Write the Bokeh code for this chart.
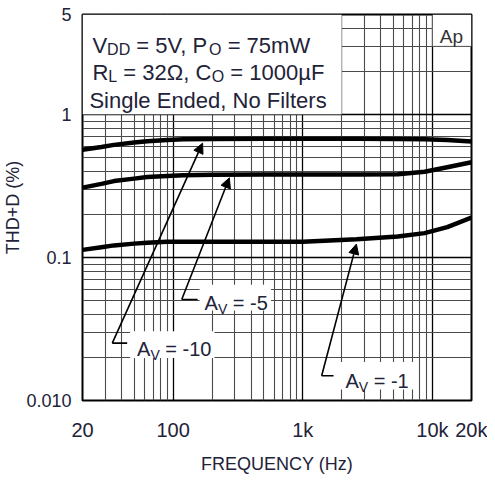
import math
from bokeh.plotting import figure
from bokeh.models import (FixedTicker, CustomJSTickFormatter, Label, BoxAnnotation,
                          Arrow, NormalHead, Range1d)
from bokeh.embed import file_html
from bokeh.resources import INLINE

# ---------------- data ----------------
freq = [20, 28, 35, 50, 63, 90, 120, 200, 500, 1000, 2600, 5400, 8700, 13000, 20000]
thd_av10 = [0.566, 0.592, 0.613, 0.637, 0.650, 0.664, 0.670, 0.675, 0.676, 0.676, 0.676, 0.675, 0.672, 0.662, 0.648]
thd_av5 = [0.308, 0.327, 0.342, 0.356, 0.365, 0.372, 0.376, 0.379, 0.380, 0.380, 0.380, 0.382, 0.398, 0.428, 0.463]
thd_av1 = [0.113, 0.118, 0.1215, 0.125, 0.127, 0.129, 0.129, 0.129, 0.129, 0.129, 0.134, 0.140, 0.148, 0.163, 0.190]

x_ticks = [20, 100, 1000, 10000, 20000]
x_tick_labels = ["20", "100", "1k", "10k", "20k"]
x_minor = [30, 40, 50, 60, 70, 80, 90, 200, 300, 400, 500, 600, 700, 800, 900,
           2000, 3000, 4000, 5000, 6000, 7000, 8000, 9000]
y_ticks = [0.01, 0.1, 1, 5]
y_tick_labels = ["0.010", "0.1", "1", "5"]
y_minor = [0.02, 0.03, 0.04, 0.05, 0.06, 0.07, 0.08, 0.09,
           0.2, 0.3, 0.4, 0.5, 0.6, 0.7, 0.8, 0.9, 2, 3, 4]

FONT = "Liberation Sans"
TXT = "#222238"
INK = "#000000"

XMIN, XMAX, YMIN, YMAX = 20, 20000, 0.01, 5
# reference frame geometry (px) used to read annotation positions
RL, RT, RW, RH = 82, 15, 392, 390
# this figure's frame geometry
FL, FT, FW, FH = 82, 14, 389, 386

p = figure(x_axis_type="log", y_axis_type="log",
           x_range=Range1d(XMIN, XMAX), y_range=Range1d(YMIN, YMAX),
           frame_width=FW, frame_height=FH,
           min_border_left=FL, min_border_right=16, min_border_top=FT, min_border_bottom=50,
           output_backend="svg", toolbar_location=None)
p.background_fill_color = "white"
p.border_fill_color = "white"
p.outline_line_color = "black"
p.outline_line_width = 2

xt = FixedTicker(ticks=x_ticks, minor_ticks=x_minor)
yt = FixedTicker(ticks=y_ticks, minor_ticks=y_minor)
p.xaxis.ticker = xt
p.yaxis.ticker = yt
p.xgrid.ticker = xt
p.ygrid.ticker = yt

FMT = """
const i = vals.findIndex(v => Math.abs(v - tick) / v < 1e-6);
return i >= 0 ? labs[i] : '';
"""
p.xaxis.formatter = CustomJSTickFormatter(args=dict(vals=x_ticks, labs=x_tick_labels), code=FMT)
p.yaxis.formatter = CustomJSTickFormatter(args=dict(vals=y_ticks, labs=y_tick_labels), code=FMT)

for ax in (p.xaxis[0], p.yaxis[0]):
    ax.axis_line_color = None
    ax.major_tick_line_color = None
    ax.minor_tick_line_color = None
    ax.major_tick_out = 0
    ax.major_tick_in = 0
    ax.minor_tick_out = 0
    ax.minor_tick_in = 0
    ax.major_label_text_font = FONT
    ax.major_label_text_color = TXT
    ax.axis_label_text_font = FONT
    ax.axis_label_text_font_size = "18px"
    ax.axis_label_text_font_style = "normal"
    ax.axis_label_text_color = TXT
p.xaxis.major_label_text_font_size = "20px"
p.xaxis.major_label_standoff = 18
p.xaxis.axis_label = "FREQUENCY (Hz)"
p.xaxis.axis_label_standoff = 10
p.yaxis.major_label_text_font_size = "18px"
p.yaxis.major_label_standoff = 11
p.yaxis.axis_label = "THD+D (%)"
p.yaxis.axis_label_standoff = 0

for g in (p.xgrid[0], p.ygrid[0]):
    g.grid_line_color = "#000000"
    g.grid_line_width = 1.3
    g.minor_grid_line_color = "#4a4a4a"
    g.minor_grid_line_width = 1.1

# curves
for ys in (thd_av10, thd_av5, thd_av1):
    p.line(freq, ys, line_color=INK, line_width=4.5, line_join="round", line_cap="round")

# --------------- helpers for annotations ---------------
def dx(px):
    return XMIN * 10 ** ((px - RL) / RW * math.log10(XMAX / XMIN))

def dy(py):
    return YMAX * 10 ** (-(py - RT) / RH * math.log10(YMAX / YMIN))

def ox(px):  # offset from frame left, in this figure's px
    return (px - RL) * FW / RW

def oy(py):  # offset from frame top (positive = up)
    return -(py - RT) * FH / RH

W = {' ': 278, '=': 584, '5': 556, 'V': 667, ',': 278, 'P': 667, '7': 556, 'm': 833,
     'W': 944, 'R': 722, '3': 556, '2': 556, 'Ω': 768, 'C': 722, '1': 556, '0': 556,
     'µ': 577, 'F': 611, 'D': 722, 'O': 778, 'L': 556, 'A': 667, '-': 333}

def tw(s, size):
    return sum(W.get(c, 556) for c in s) * size / 1000.0

def rich(px, py, pieces, color=TXT):
    x = ox(px)
    for txt, size, dyp in pieces:
        lead = len(txt) - len(txt.lstrip(' '))
        x += tw(' ' * lead, size)
        t = txt.lstrip(' ')
        p.add_layout(Label(x=XMIN, y=YMAX, x_offset=x, y_offset=oy(py) - dyp,
                           text=t, text_font=FONT, text_font_size=f"{size}px",
                           text_color=color, text_baseline="alphabetic", text_align="left"))
        x += tw(t, size)

def wbox(l, r, t, b, line=None):
    p.add_layout(BoxAnnotation(left=l, right=r, top=t, bottom=b, fill_color="white",
                               fill_alpha=1.0, line_color=line, line_width=1))

# white boxes
wbox(20, 2000, 5, 1, line="#000000")
wbox(10000, 20000, 5, 3, line="#000000")
wbox(dx(130), dx(215), dy(335), dy(362))
wbox(dx(200), dx(272), dy(288), dy(314))
wbox(dx(340), dx(418), dy(366), dy(394))

# condition text
rich(92, 46, [("V", 22, 0), ("DD", 16, 4), (" = 5V, P", 22, 0), ("O", 16, 4), (" = 75mW", 22, 0)])
rich(92, 74, [("R", 22, 0), ("L", 16, 4), (" = 32Ω, C", 22, 0), ("O", 16, 4), (" = 1000µF", 22, 0)])
rich(89, 102, [("Single Ended, No Filters", 22, 0)])
rich(442, 37, [("Ap", 19, 0)], color="#333333")

# curve labels
rich(137, 353, [("A", 20, 0), ("V", 14, 6), (" = -10", 20, 0)])
rich(205, 306, [("A", 20, 0), ("V", 14, 6), (" = -5", 20, 0)])
rich(347, 385, [("A", 20, 0), ("V", 14, 6), (" = -1", 20, 0)])

# leaders & arrows
def seg(x0, y0, x1, y1, head=True):
    end = NormalHead(size=10, fill_color=INK, line_color=INK, line_width=1) if head else None
    p.add_layout(Arrow(end=end, x_start=dx(x0), y_start=dy(y0), x_end=dx(x1), y_end=dy(y1),
                       line_color=INK, line_width=1.6))

seg(112, 347, 127, 347, head=False)
seg(112, 347, 203, 145)
seg(182, 303, 198, 303, head=False)
seg(182, 303, 230, 180)
seg(323, 380, 335, 380, head=False)
seg(323, 380, 358, 247)

open("out.html", "w").write(file_html(p, INLINE))
